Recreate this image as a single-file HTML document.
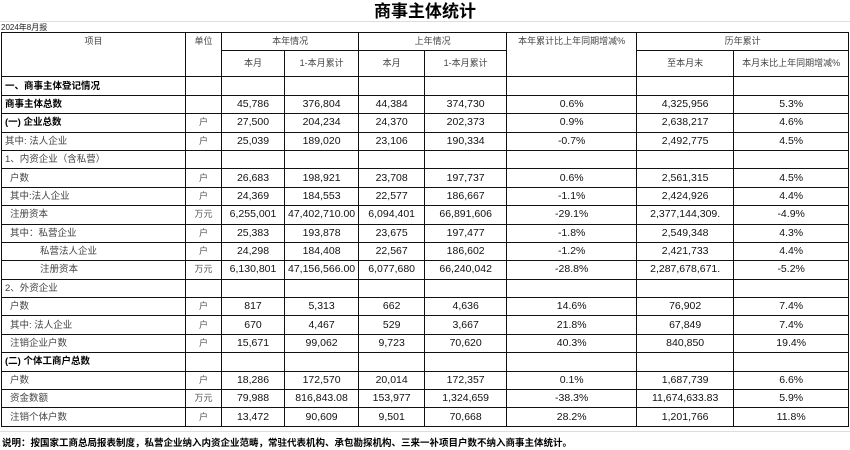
<!DOCTYPE html>
<html><head><meta charset="utf-8"><style>
body{margin:0;width:850px;height:450px;background:#fff;position:relative;overflow:hidden;font-family:"Liberation Sans","Noto Sans CJK SC",sans-serif;color:#000}
.title{position:absolute;left:0;width:850px;top:1px;text-align:center;font-size:17px;font-weight:bold;line-height:22px}
.sub{position:absolute;left:1px;top:22px;font-size:8px;color:#222}
.line{position:absolute;left:0;width:850px;height:1px;background:#ddd}
table{position:absolute;left:1px;top:32px;border-collapse:collapse;table-layout:fixed}
td{border:1px solid #111;padding:0 3px;font-size:10.5px;text-align:center;white-space:nowrap;overflow:hidden;height:17.4px;line-height:17px;color:#111}
td.l{text-align:left;font-size:9.5px;color:#444}
td.u{font-size:9px;color:#555}
td.h{font-size:9px;color:#444}
tr.b td.l{font-weight:bold;color:#000}
.i1{padding-left:8px}.i2{padding-left:38px}
.note{position:absolute;left:2px;top:435px;font-size:9.5px;font-weight:bold}
</style></head><body>
<div class="title">商事主体统计</div>
<div class="line" style="top:21px"></div>
<div class="sub">2024年8月报</div>
<table>
<colgroup><col style="width:184px"><col style="width:36px"><col style="width:63px"><col style="width:74px"><col style="width:66px"><col style="width:82px"><col style="width:130px"><col style="width:97px"><col style="width:115px"></colgroup>
<tr><td class="h" rowspan="2" style="vertical-align:top;height:17px">项目</td><td class="h" rowspan="2" style="vertical-align:top">单位</td><td class="h" colspan="2">本年情况</td><td class="h" colspan="2">上年情况</td><td class="h" rowspan="2" style="vertical-align:top">本年累计比上年同期增减%</td><td class="h" colspan="2">历年累计</td></tr>
<tr><td class="h" style="height:25px">本月</td><td class="h">1-本月累计</td><td class="h">本月</td><td class="h">1-本月累计</td><td class="h">至本月末</td><td class="h">本月末比上年同期增减%</td></tr>
<tr class="b"><td class="l">一、商事主体登记情况</td><td></td><td></td><td></td><td></td><td></td><td></td><td></td><td></td></tr>
<tr class="b"><td class="l">商事主体总数</td><td></td><td>45,786</td><td>376,804</td><td>44,384</td><td>374,730</td><td>0.6%</td><td>4,325,956</td><td>5.3%</td></tr>
<tr class="b"><td class="l">(一) 企业总数</td><td class="u">户</td><td>27,500</td><td>204,234</td><td>24,370</td><td>202,373</td><td>0.9%</td><td>2,638,217</td><td>4.6%</td></tr>
<tr><td class="l">其中: 法人企业</td><td class="u">户</td><td>25,039</td><td>189,020</td><td>23,106</td><td>190,334</td><td>-0.7%</td><td>2,492,775</td><td>4.5%</td></tr>
<tr><td class="l">1、内资企业（含私营）</td><td></td><td></td><td></td><td></td><td></td><td></td><td></td><td></td></tr>
<tr><td class="l i1">户数</td><td class="u">户</td><td>26,683</td><td>198,921</td><td>23,708</td><td>197,737</td><td>0.6%</td><td>2,561,315</td><td>4.5%</td></tr>
<tr><td class="l i1">其中:法人企业</td><td class="u">户</td><td>24,369</td><td>184,553</td><td>22,577</td><td>186,667</td><td>-1.1%</td><td>2,424,926</td><td>4.4%</td></tr>
<tr><td class="l i1">注册资本</td><td class="u">万元</td><td>6,255,001</td><td>47,402,710.00</td><td>6,094,401</td><td>66,891,606</td><td>-29.1%</td><td>2,377,144,309.</td><td>-4.9%</td></tr>
<tr><td class="l i1">其中：私营企业</td><td class="u">户</td><td>25,383</td><td>193,878</td><td>23,675</td><td>197,477</td><td>-1.8%</td><td>2,549,348</td><td>4.3%</td></tr>
<tr><td class="l i2">私营法人企业</td><td class="u">户</td><td>24,298</td><td>184,408</td><td>22,567</td><td>186,602</td><td>-1.2%</td><td>2,421,733</td><td>4.4%</td></tr>
<tr><td class="l i2">注册资本</td><td class="u">万元</td><td>6,130,801</td><td>47,156,566.00</td><td>6,077,680</td><td>66,240,042</td><td>-28.8%</td><td>2,287,678,671.</td><td>-5.2%</td></tr>
<tr><td class="l">2、外资企业</td><td></td><td></td><td></td><td></td><td></td><td></td><td></td><td></td></tr>
<tr><td class="l i1">户数</td><td class="u">户</td><td>817</td><td>5,313</td><td>662</td><td>4,636</td><td>14.6%</td><td>76,902</td><td>7.4%</td></tr>
<tr><td class="l i1">其中: 法人企业</td><td class="u">户</td><td>670</td><td>4,467</td><td>529</td><td>3,667</td><td>21.8%</td><td>67,849</td><td>7.4%</td></tr>
<tr><td class="l i1">注销企业户数</td><td class="u">户</td><td>15,671</td><td>99,062</td><td>9,723</td><td>70,620</td><td>40.3%</td><td>840,850</td><td>19.4%</td></tr>
<tr class="b"><td class="l">(二) 个体工商户总数</td><td></td><td></td><td></td><td></td><td></td><td></td><td></td><td></td></tr>
<tr><td class="l i1">户数</td><td class="u">户</td><td>18,286</td><td>172,570</td><td>20,014</td><td>172,357</td><td>0.1%</td><td>1,687,739</td><td>6.6%</td></tr>
<tr><td class="l i1">资金数额</td><td class="u">万元</td><td>79,988</td><td>816,843.08</td><td>153,977</td><td>1,324,659</td><td>-38.3%</td><td>11,674,633.83</td><td>5.9%</td></tr>
<tr><td class="l i1">注销个体户数</td><td class="u">户</td><td>13,472</td><td>90,609</td><td>9,501</td><td>70,668</td><td>28.2%</td><td>1,201,766</td><td>11.8%</td></tr>
</table>
<div class="line" style="top:431px"></div>
<div class="note">说明：按国家工商总局报表制度，私营企业纳入内资企业范畴，常驻代表机构、承包勘探机构、三来一补项目户数不纳入商事主体统计。</div>
</body></html>
